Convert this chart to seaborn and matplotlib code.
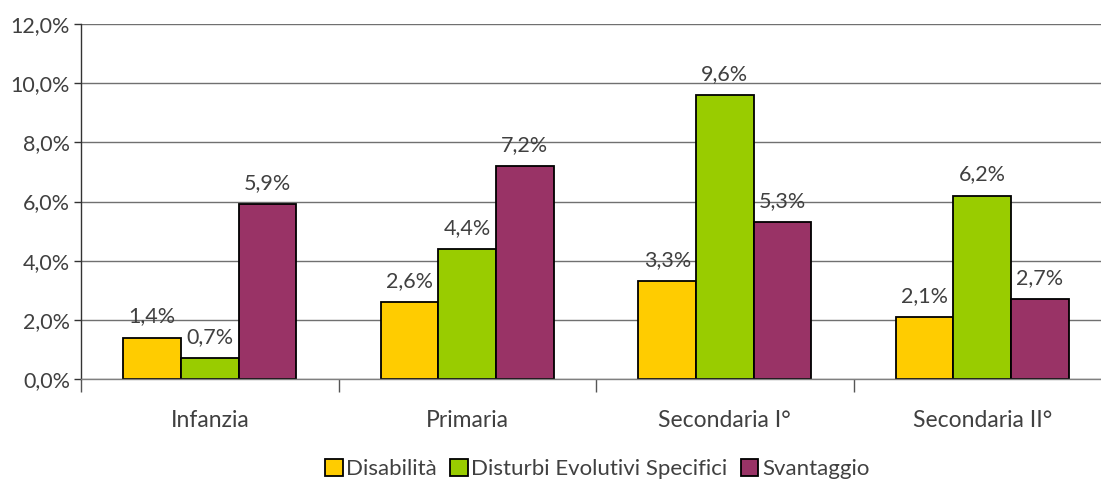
import matplotlib
matplotlib.use("Agg")
import matplotlib.pyplot as plt
import seaborn as sns
import pandas as pd
from matplotlib.ticker import FuncFormatter, FixedLocator

categories = ["Infanzia", "Primaria", "Secondaria I°", "Secondaria II°"]
series_names = ["Disabilità", "Disturbi Evolutivi Specifici", "Svantaggio"]
disabilita = [1.4, 2.6, 3.3, 2.1]
dse = [0.7, 4.4, 9.6, 6.2]
svantaggio = [5.9, 7.2, 5.3, 2.7]
colors = ["#FFCC00", "#99CC00", "#993366"]
y_ticks = [0, 2, 4, 6, 8, 10, 12]

rows = []
for name, vals in zip(series_names, [disabilita, dse, svantaggio]):
    for cat, v in zip(categories, vals):
        rows.append({"Scuola": cat, "Serie": name, "Valore": v})
df = pd.DataFrame(rows)

sns.set_theme(style="white")
plt.rcParams["font.family"] = ["Lato", "DejaVu Sans"]
text_color = "#404040"

fig = plt.figure(figsize=(11.01, 4.83), dpi=100)
ax = fig.add_axes([81 / 1101, 1 - 379 / 483, (1111 - 81) / 1101, (379 - 24) / 483])
ax.set_clip_on(False)

sns.barplot(data=df, x="Scuola", y="Valore", hue="Serie", order=categories,
            hue_order=series_names, palette=colors, width=0.67,
            edgecolor="black", linewidth=1.3, saturation=1, ax=ax, legend=True)

def fmt(v):
    return f"{v:.1f}".replace(".", ",") + "%"

for cont in ax.containers:
    ax.bar_label(cont, labels=[fmt(b.get_height()) for b in cont], padding=8,
                 fontsize=15.5, color=text_color)

ax.set_ylim(0, 12)
ax.set_xlim(-0.5, 3.5)
ax.yaxis.set_major_locator(FixedLocator(y_ticks))
ax.yaxis.set_major_formatter(FuncFormatter(lambda v, p: f"{v:.1f}".replace(".", ",") + "%"))
ax.grid(axis="y", color="#707070", linewidth=1)
ax.set_axisbelow(True)
for s in ["top", "right"]:
    ax.spines[s].set_visible(False)
ax.spines["left"].set_color("#333333")
ax.spines["bottom"].set_color("#808080")
ax.spines["left"].set_linewidth(1)
ax.spines["bottom"].set_linewidth(1)
ax.tick_params(axis="y", left=True, length=5, width=1, color="#333333",
               labelsize=15.5, labelcolor=text_color, pad=3)
ax.set_xticks([0, 1, 2, 3])
ax.set_xticklabels(categories)
ax.tick_params(axis="x", bottom=False, labelsize=16.5, labelcolor=text_color, pad=16)
# boundary ticks between categories
ax.set_xticks([-0.5, 0.5, 1.5, 2.5, 3.5], minor=True)
ax.tick_params(axis="x", which="minor", bottom=True, length=9, width=1, color="#555555")
ax.set_xlabel("")
ax.set_ylabel("")

handles, labels = ax.get_legend_handles_labels()
ax.get_legend().remove()
leg = fig.legend(handles, labels, loc="center", bbox_to_anchor=(597 / 1101, 1 - 469 / 483),
                 ncol=3, frameon=False, fontsize=16, handlelength=0.8, handleheight=0.8,
                 handletextpad=0.15, columnspacing=0.6, labelcolor=text_color,
                 borderaxespad=0)

fig.savefig("out.png", dpi=100)
